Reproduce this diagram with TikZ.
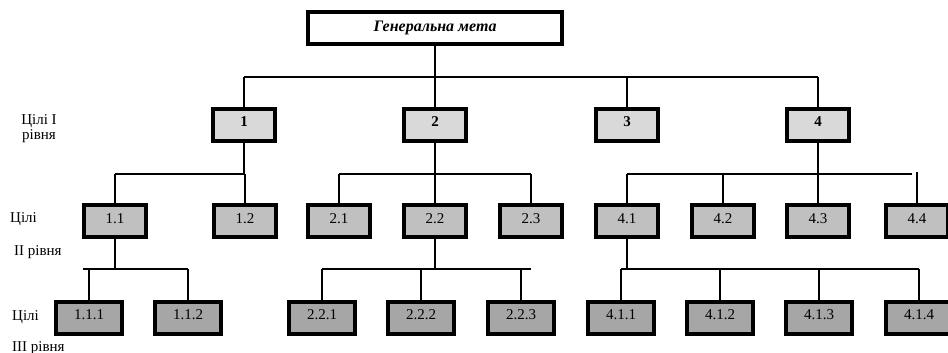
\documentclass[tikz,border=0pt]{standalone}
\usepackage{fontspec}
\setmainfont{Liberation Serif}
\definecolor{fillone}{RGB}{217,217,217}
\definecolor{filltwo}{RGB}{192,192,192}
\definecolor{fillthree}{RGB}{166,166,166}
\begin{document}
\begin{tikzpicture}[x=1pt,y=-1pt,
  goalbox/.style={draw=black, line width=4pt, inner sep=0pt, minimum height=32pt,
    text height=17pt, text depth=15pt, font=\fontsize{15}{17}\selectfont},
  lvlone/.style={goalbox, fill=fillone, minimum width=62pt,
    font=\bfseries\fontsize{15}{17}\selectfont},
  lvltwo/.style={goalbox, fill=filltwo, minimum width=62pt,
    text height=18pt, text depth=14pt},
  lvlthree/.style={goalbox, fill=fillthree, minimum width=66pt},
  link/.style={line width=2pt},
  lbl/.style={inner sep=0pt, font=\fontsize{15}{15}\selectfont}
]
\useasboundingbox (0,0) rectangle (948,353);
\clip (0,0) rectangle (948,353);

% general goal
\node[draw=black, line width=4pt, fill=white, inner sep=0pt,
  minimum width=254pt, minimum height=32pt, text height=16pt, text depth=8pt,
  font=\bfseries\itshape\fontsize{16}{18}\selectfont] (top) at (435,28) {Генеральна мета};

% level I
\node[lvlone] (g1) at (244,125) {1};
\node[lvlone] (g2) at (435,125) {2};
\node[lvlone] (g3) at (627,125) {3};
\node[lvlone] (g4) at (818,125) {4};

% level II
\node[lvltwo] (g11) at (115,221) {1.1};
\node[lvltwo] (g12) at (245,221) {1.2};
\node[lvltwo] (g21) at (339,221) {2.1};
\node[lvltwo] (g22) at (435,221) {2.2};
\node[lvltwo] (g23) at (531,221) {2.3};
\node[lvltwo] (g41) at (627,221) {4.1};
\node[lvltwo] (g42) at (723,221) {4.2};
\node[lvltwo] (g43) at (818,221) {4.3};
\node[lvltwo] (g44) at (917,221) {4.4};

% level III
\node[lvlthree] (g111) at (89,318) {1.1.1};
\node[lvlthree] (g112) at (188,318) {1.1.2};
\node[lvlthree] (g221) at (322,318) {2.2.1};
\node[lvlthree] (g222) at (421,318) {2.2.2};
\node[lvlthree] (g223) at (521,318) {2.2.3};
\node[lvlthree] (g411) at (621,318) {4.1.1};
\node[lvlthree] (g412) at (720,318) {4.1.2};
\node[lvlthree] (g413) at (819,318) {4.1.3};
\node[lvlthree] (g414) at (919,318) {4.1.4};

% level captions
\node[lbl, align=center, anchor=north] (cap1) at (39,114) {Цілі I\\рівня};
\node[lbl, anchor=base west] (cap2a) at (10,222) {Цілі};
\node[lbl, anchor=base west] (cap2b) at (14,255) {II рівня};
\node[lbl, anchor=base west] (cap3a) at (12,320) {Цілі};
\node[lbl, anchor=base west] (cap3b) at (12,351) {III рівня};

% bus lines
\coordinate (b0) at (435,77);
\coordinate (b1) at (0,174);
\coordinate (b1end) at (912,174);
\coordinate (b1tick) at (0,172);
\coordinate (b2) at (0,269);
\coordinate (e11) at (83,269);
\coordinate (e22) at (531,269);

% general goal -> level I
\draw[link] (top.south) -- (b0);
\draw[link] (g1.north |- b0) -- (g4.north |- b0);
\foreach \n in {g1,g2,g3,g4} \draw[link] (\n.north) -- (\n.north |- b0);

% level I -> level II
\draw[link] (g1.south) -- (g1.south |- b1) -- (g11.north |- b1);
\foreach \n in {g11,g12} \draw[link] (\n.north) -- (\n.north |- b1);
\draw[link] (g2.south) -- (g2.south |- b1);
\draw[link] (g21.north |- b1) -- (g23.north |- b1);
\foreach \n in {g21,g22,g23} \draw[link] (\n.north) -- (\n.north |- b1);
\draw[link] (g4.south) -- (g4.south |- b1);
\draw[link] (g41.north |- b1) -- (b1end);
\foreach \n in {g41,g42,g43} \draw[link] (\n.north) -- (\n.north |- b1);
\draw[link] (g44.north) -- (g44.north |- b1tick);

% level II -> level III
\draw[link] (g11.south) -- (g11.south |- b2);
\draw[link] (e11) -- (g112.north |- b2);
\foreach \n in {g111,g112} \draw[link] (\n.north) -- (\n.north |- b2);
\draw[link] (g22.south) -- (g22.south |- b2);
\draw[link] (g221.north |- b2) -- (e22);
\foreach \n in {g221,g222,g223} \draw[link] (\n.north) -- (\n.north |- b2);
\draw[link] (g41.south) -- (g41.south |- b2);
\draw[link] (g411.north |- b2) -- (g414.north |- b2);
\foreach \n in {g411,g412,g413,g414} \draw[link] (\n.north) -- (\n.north |- b2);
\end{tikzpicture}
\end{document}
